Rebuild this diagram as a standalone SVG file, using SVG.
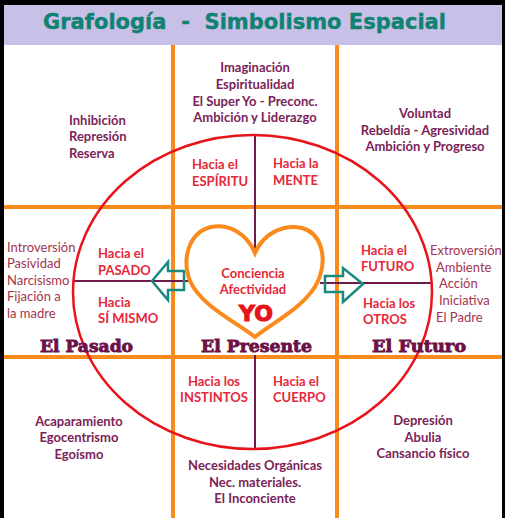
<svg xmlns="http://www.w3.org/2000/svg" width="505" height="518" viewBox="0 0 505 518">
<style>
.t{font-family:Lato,"Open Sans","Liberation Sans",sans-serif;font-weight:bold;font-size:13px;fill:#7b2358}
.r{font-family:Lato,"Open Sans","Liberation Sans",sans-serif;font-weight:bold;font-size:13px;fill:#e5283a}
.s{font-family:Lato,"Open Sans","Liberation Sans",sans-serif;font-size:13px;fill:#a3344e}
.c{text-anchor:middle}
.h{font-family:"DejaVu Serif","Liberation Serif",serif;font-weight:bold;font-size:16px;fill:#6d1048;stroke:#6d1048;stroke-width:0.8}
.o{stroke:#fb8a1c;stroke-width:4;fill:none}
.p{stroke:#6e1a4c;stroke-width:2;fill:none}
.a{stroke:#1a8a80;stroke-width:2.5;fill:none;stroke-linejoin:miter}
</style>
<rect x="0" y="0" width="505" height="518" fill="#000"/>
<rect x="4" y="5" width="498" height="513" fill="#fff"/>
<g id="title">
<rect x="4" y="5" width="498" height="40" fill="#c9c0e8"/>
<text x="43" y="29" xml:space="preserve" textLength="403" lengthAdjust="spacingAndGlyphs" style="font-family:'DejaVu Sans','Liberation Sans',sans-serif;font-weight:bold;font-size:21px;fill:#0f8272;stroke:#0f8272;stroke-width:0.4">Grafología  -  Simbolismo Espacial</text>
</g>
<g id="grid">
<line class="o" x1="173" y1="45" x2="173" y2="518"/>
<line class="o" x1="337" y1="45" x2="337" y2="518"/>
<line class="o" x1="4" y1="207" x2="502" y2="207"/>
<line class="o" x1="4" y1="357" x2="502" y2="357"/>
</g>
<g id="connectors">
<line class="p" x1="255" y1="135" x2="255" y2="255"/>
<line class="p" x1="255" y1="355" x2="255" y2="449"/>
<line class="p" x1="73" y1="281" x2="190" y2="281"/>
<line class="p" x1="320" y1="283" x2="432" y2="283"/>
<polygon class="a" points="152,281 168,262 168,271 184,271 184,290 168,290 168,300"/>
<polygon class="a" points="363,284 343,268 343,276 325,276 325,292 343,292 343,302"/>
</g>
<g id="ellipse">
<ellipse cx="252.5" cy="292" rx="179.5" ry="157" fill="none" stroke="#e8141c" stroke-width="2.5"/>
</g>
<g id="heart">
<path d="M255,253 C246,232 228,224 211,227 C190,232 181,257 190,281 C201,306 238,323 255,337 C272,323 307,306 318,281 C328,257 321,233 302,228 C285,224 264,232 255,253 Z" fill="#fff" stroke="#fb8a1c" stroke-width="4"/>
<text class="r c" x="253" y="278">Conciencia</text>
<text class="r c" x="253" y="294">Afectividad</text>
<text class="c" x="256" y="321" style="font-family:'DejaVu Sans','Liberation Sans',sans-serif;font-weight:bold;font-size:22px;fill:#e8141c;stroke:#e8141c;stroke-width:1.2">YO</text>
</g>
<g id="top-center">
<text class="t c" x="255" y="72">Imaginación</text>
<text class="t c" x="255" y="89">Espiritualidad</text>
<text class="t c" x="255" y="106">El Super Yo - Preconc.</text>
<text class="t c" x="255" y="122">Ambición y Liderazgo</text>
</g>
<g id="top-left">
<text class="t" x="69" y="125">Inhibición</text>
<text class="t" x="69" y="141">Represión</text>
<text class="t" x="69" y="158">Reserva</text>
</g>
<g id="top-right">
<text class="t c" x="425" y="118">Voluntad</text>
<text class="t c" x="425" y="135">Rebeldía - Agresividad</text>
<text class="t c" x="425" y="151">Ambición y Progreso</text>
</g>
<g id="espiritu">
<text class="r" x="192" y="169">Hacia el</text>
<text class="r" x="192" y="186">ESPÍRITU</text>
</g>
<g id="mente">
<text class="r" x="273" y="168">Hacia la</text>
<text class="r" x="273" y="185">MENTE</text>
</g>
<g id="left">
<text class="s" x="7" y="251.5">Introversión</text>
<text class="s" x="7" y="268">Pasividad</text>
<text class="s" x="7" y="284.5">Narcisismo</text>
<text class="s" x="7" y="301">Fijación a</text>
<text class="s" x="7" y="317.5">la madre</text>
</g>
<g id="pasado">
<text class="r" x="98" y="258">Hacia el</text>
<text class="r" x="98" y="275">PASADO</text>
</g>
<g id="si-mismo">
<text class="r" x="98" y="307">Hacia</text>
<text class="r" x="98" y="323">SÍ MISMO</text>
</g>
<g id="futuro">
<text class="r" x="361" y="255">Hacia el</text>
<text class="r" x="361" y="271">FUTURO</text>
</g>
<g id="otros">
<text class="r" x="363" y="308">Hacia los</text>
<text class="r" x="363" y="324">OTROS</text>
</g>
<g id="right">
<text class="s" x="430" y="255">Extroversión</text>
<text class="s" x="436" y="272">Ambiente</text>
<text class="s" x="439" y="288">Acción</text>
<text class="s" x="439" y="305">Iniciativa</text>
<text class="s" x="436" y="322">El Padre</text>
</g>
<g id="time-labels">
<text class="h" x="40" y="352" textLength="93" lengthAdjust="spacingAndGlyphs">El Pasado</text>
<text class="h" x="201" y="352" textLength="111" lengthAdjust="spacingAndGlyphs">El Presente</text>
<text class="h" x="372" y="352" textLength="94" lengthAdjust="spacingAndGlyphs">El Futuro</text>
</g>
<g id="instintos">
<text class="r c" x="214" y="386">Hacia los</text>
<text class="r c" x="214" y="402">INSTINTOS</text>
</g>
<g id="cuerpo">
<text class="r" x="273" y="386">Hacia el</text>
<text class="r" x="273" y="402">CUERPO</text>
</g>
<g id="bottom-left">
<text class="t c" x="79" y="426">Acaparamiento</text>
<text class="t c" x="79" y="442">Egocentrismo</text>
<text class="t c" x="79" y="459">Egoísmo</text>
</g>
<g id="bottom-right">
<text class="t c" x="423" y="425">Depresión</text>
<text class="t c" x="423" y="442">Abulia</text>
<text class="t c" x="423" y="458">Cansancio físico</text>
</g>
<g id="bottom-center">
<text class="t c" x="255" y="470">Necesidades Orgánicas</text>
<text class="t c" x="255" y="487">Nec. materiales.</text>
<text class="t c" x="255" y="503">El Inconciente</text>
</g>
</svg>
